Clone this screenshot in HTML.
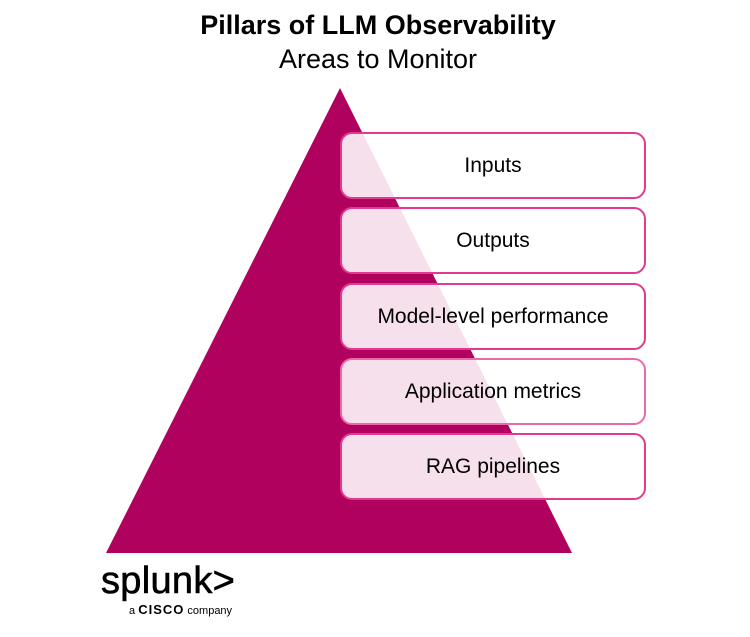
<!DOCTYPE html>
<html><head><meta charset="utf-8"><style>
body{margin:0;width:750px;height:637px;background:#fff;overflow:hidden;font-family:"Liberation Sans",Arial,sans-serif;position:relative}
.t1{position:absolute;top:10px;left:0;width:756px;text-align:center;font-weight:bold;font-size:27px;color:#000}
.t2{position:absolute;top:44px;left:0;width:756px;text-align:center;font-size:27px;color:#000}
.box{position:absolute;left:340px;width:302px;height:63px;border:2px solid #e23a8f;border-radius:12px;background:rgba(255,255,255,0.88);display:flex;align-items:center;justify-content:center;font-size:21px;color:#000;box-sizing:content-box}
</style></head><body>
<div class="t1">Pillars of LLM Observability</div>
<div class="t2">Areas to Monitor</div>
<svg style="position:absolute;left:0;top:0" width="750" height="637"><polygon points="340,88 106,553 572,553" fill="#b0015f"/></svg>
<div class="box" style="top:132px">Inputs</div>
<div class="box" style="top:207px">Outputs</div>
<div class="box" style="top:283px">Model-level performance</div>
<div class="box" style="top:358px;border-color:#ea6aa8">Application metrics</div>
<div class="box" style="top:433px">RAG pipelines</div>
<div style="position:absolute;left:101px;top:561px;font-size:38px;letter-spacing:0.3px;color:#000;line-height:40px;-webkit-text-stroke:0.6px #000">splunk&gt;</div>
<div style="position:absolute;left:129px;top:602px;font-size:11px;color:#000">a <b style="font-size:13px;letter-spacing:1px">CISCO</b> company</div>
</body></html>
